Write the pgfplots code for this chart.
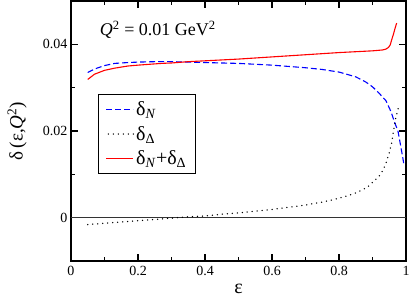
\documentclass[border=0pt]{standalone}
\usepackage{pgfplots}
\pgfplotsset{compat=1.18}
\usepackage{fontspec}
\setmainfont{Liberation Serif}
\begin{document}
\begin{tikzpicture}
\useasboundingbox (-71pt,-39pt) rectangle (340pt,261pt);
\begin{axis}[
  at={(0,0)}, anchor=south west,
  scale only axis, width=335pt, height=260pt,
  xmin=0, xmax=1, ymin=-0.01, ymax=0.05,
  scaled y ticks=false, scaled x ticks=false,
  xtick={0,0.2,0.4,0.6,0.8,1}, xticklabels={0,0.2,0.4,0.6,0.8,1},
  ytick={0,0.02,0.04}, yticklabels={0,0.02,0.04},
  minor x tick num=1, minor y tick num=1,
  tick align=inside, ticks=both,
  major tick length=7pt, minor tick length=4pt,
  every tick/.style={black, line width=1.1pt},
  axis line style={line width=1.3pt},
  tick label style={font=\fontsize{14}{14}\selectfont},
  /pgf/number format/assume math mode=true,
  xticklabel style={yshift=-2pt},
  xlabel={\fontsize{20}{20}\selectfont ε},
  xlabel style={at={(axis description cs:0.5,-0.108)}, anchor=center},
  ylabel={\fontsize{19}{19}\selectfont δ\,(ε,\textit{Q}\textsuperscript{2})},
  ylabel style={at={(axis description cs:-0.161,0.5)}, anchor=center},
  legend style={at={(axis description cs:0.0815,0.641)}, anchor=north west,
    draw=black, line width=1pt, font=\fontsize{20}{20}\selectfont,
    inner xsep=7pt, inner ysep=5pt, row sep=5pt},
  legend cell align=left,
  clip=true,
]
\addplot[draw=black!80, line width=1.6pt, forget plot] coordinates {(0,0) (1,0)};
\addlegendimage{legend image code/.code={\draw[blue, line width=1.1pt, dash pattern=on 6pt off 3pt] (0pt,0pt) -- (27pt,0pt);}}
\addlegendentry{δ\textsubscript{\textit{N}}}
\addlegendimage{legend image code/.code={\draw[black, line width=1.5pt, line cap=round, dash pattern=on 0pt off 5pt] (2pt,0pt) -- (27pt,0pt);}}
\addlegendentry{δ\textsubscript{Δ}}
\addlegendimage{legend image code/.code={\draw[red, line width=1.1pt] (0pt,0pt) -- (27pt,0pt);}}
\addlegendentry{δ\textsubscript{\textit{N}}+δ\textsubscript{Δ}}
\addplot[draw=blue, line width=1.1pt, dash pattern=on 6pt off 3pt, forget plot] coordinates {
(0.05,0.0335) (0.07,0.0343) (0.1,0.0351) (0.13,0.0356) (0.17,0.0358) (0.2,0.0359)
(0.25,0.0360) (0.3,0.0360) (0.35,0.0359) (0.4,0.0358) (0.45,0.0357) (0.5,0.0356)
(0.55,0.0354) (0.6,0.0352) (0.65,0.0349) (0.7,0.0346) (0.75,0.0342) (0.8,0.0336)
(0.85,0.0325) (0.88,0.0313) (0.9,0.0302) (0.92,0.0287) (0.94,0.0270) (0.955,0.0245)
(0.965,0.0222) (0.976,0.0200) (0.985,0.0162) (0.994,0.0122)};
\addplot[draw=black, line width=1.5pt, line cap=round, dash pattern=on 0pt off 5pt, forget plot] coordinates {
(0.05,-0.0016) (0.1,-0.0013) (0.15,-0.0010) (0.2,-0.0007) (0.27,-0.0003) (0.3,-0.0001)
(0.35,0.0002) (0.4,0.0004) (0.45,0.0008) (0.5,0.0011) (0.55,0.0015) (0.6,0.0019)
(0.65,0.0024) (0.7,0.0029) (0.75,0.0036) (0.78,0.0041) (0.8,0.0045) (0.84,0.0054)
(0.87,0.0064) (0.89,0.0074) (0.905,0.0085) (0.92,0.0096) (0.93,0.0108) (0.94,0.0125)
(0.95,0.0150) (0.957,0.0172) (0.962,0.0198) (0.97,0.0232) (0.98,0.0262)};
\addplot[draw=red, line width=1.1pt, forget plot] coordinates {
(0.05,0.0319) (0.07,0.0331) (0.1,0.0340) (0.13,0.0345) (0.17,0.0350) (0.2,0.0352)
(0.27,0.0356) (0.3,0.0357) (0.35,0.0360) (0.4,0.0362) (0.45,0.0364) (0.5,0.0366)
(0.6,0.0371) (0.7,0.0376) (0.8,0.0381) (0.9,0.0385) (0.93,0.0387) (0.94,0.0389)
(0.948,0.0393) (0.953,0.0399) (0.957,0.0410) (0.962,0.0422) (0.967,0.0436) (0.972,0.0449)};
\node[anchor=base west, font=\fontsize{18}{18}\selectfont] at (axis cs:0.076,0.0420)
  {\textit{Q}\textsuperscript{2} = 0.01 GeV\textsuperscript{2}};
\end{axis}
\end{tikzpicture}
\end{document}
